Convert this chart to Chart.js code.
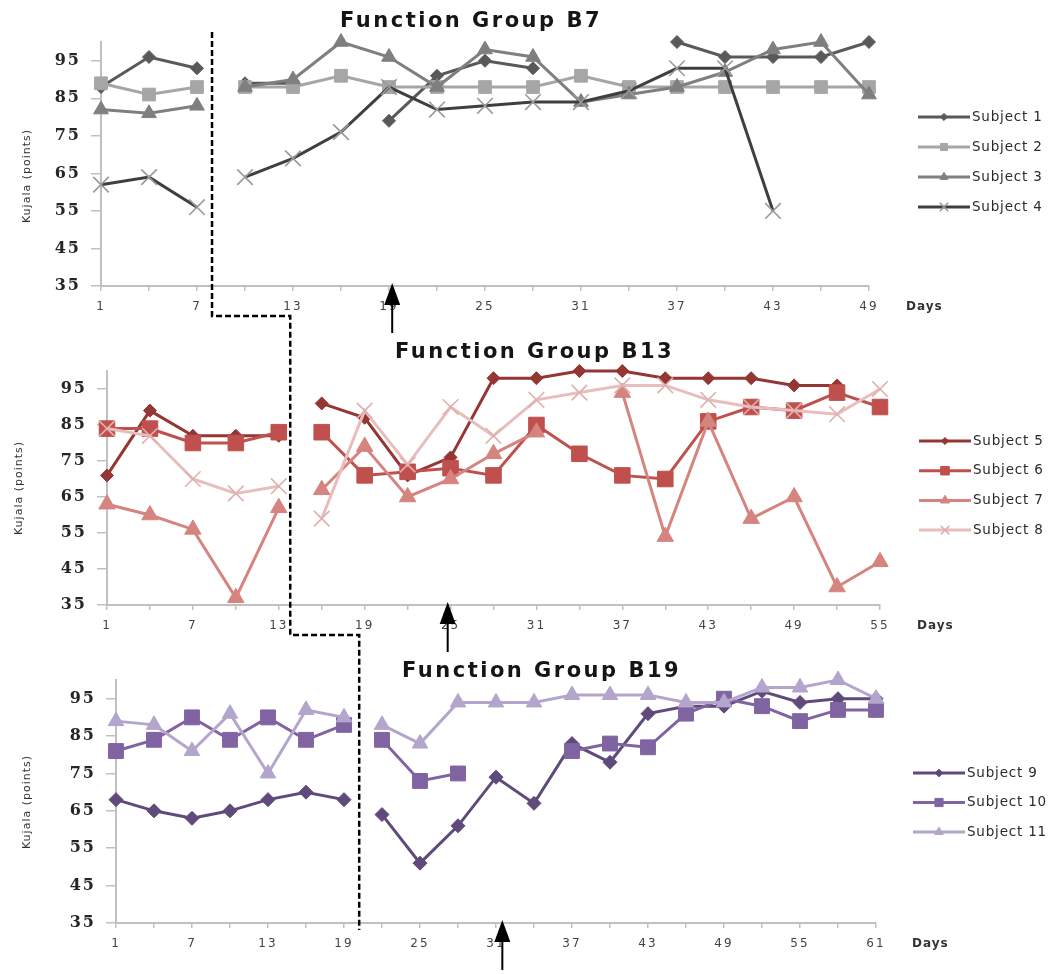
<!DOCTYPE html>
<html>
<head>
<meta charset="utf-8">
<script src="https://cdn.jsdelivr.net/npm/chart.js@4.4.1/dist/chart.umd.min.js"></script>
<style>
  body { margin: 0; background: #fff; }
  #wrap { position: relative; width: 1054px; height: 974px; }
  #wrap canvas { position: absolute; left: 0; }
</style>
</head>
<body>
<div id="wrap">
  <canvas id="b7" width="1054" height="316" style="top:0px"></canvas>
  <canvas id="b13" width="1054" height="319" style="top:316px"></canvas>
  <canvas id="b19" width="1054" height="339" style="top:635px"></canvas>
  <canvas id="overlay" width="1054" height="974" style="top:0px"></canvas>
</div>
<script>
// y axis, shared by the three groups
const yTicks = [35, 45, 55, 65, 75, 85, 95];

// Function Group B7
const b7Days = [1, 4, 7, 10, 13, 16, 19, 22, 25, 28, 31, 34, 37, 40, 43, 46, 49];
const b7Labels = [1, 7, 13, 19, 25, 31, 37, 43, 49];
const subject1 = [88, 96, 93, 89, 89, null, 79, 91, 95, 93, null, null, 100, 96, 96, 96, 100];
const subject2 = [89, 86, 88, 88, 88, 91, 88, 88, 88, 88, 91, 88, 88, 88, 88, 88, 88];
const subject3 = [82, 81, 83, 88, 90, 100, 96, 88, 98, 96, 84, 86, 88, 92, 98, 100, 86];
const subject4 = [62, 64, 56, 64, 69, 76, 88, 82, 83, 84, 84, 87, 93, 93, 55, null, null];

// Function Group B13
const b13Days = [1, 4, 7, 10, 13, 16, 19, 22, 25, 28, 31, 34, 37, 40, 43, 46, 49, 52, 55];
const b13Labels = [1, 7, 13, 19, 25, 31, 37, 43, 49, 55];
const subject5 = [71, 89, 82, 82, 82, 91, 87, 71, 76, 98, 98, 100, 100, 98, 98, 98, 96, 96, null];
const subject6 = [84, 84, 80, 80, 83, 83, 71, 72, 73, 71, 85, 77, 71, 70, 86, 90, 89, 94, 90];
const subject7 = [63, 60, 56, 37, 62, 67, 79, 65, 70, 77, 83, null, 94, 54, 86, 59, 65, 40, 47];
const subject8 = [84, 82, 70, 66, 68, 59, 89, 74, 90, 82, 92, 94, 96, 96, 92, 90, 89, 88, 95];

// Function Group B19
const b19Days = [1, 4, 7, 10, 13, 16, 19, 22, 25, 28, 31, 34, 37, 40, 43, 46, 49, 52, 55, 58, 61];
const b19Labels = [1, 7, 13, 19, 25, 31, 37, 43, 49, 55, 61];
const subject9 = [68, 65, 63, 65, 68, 70, 68, 64, 51, 61, 74, 67, 83, 78, 91, 93, 93, 97, 94, 95, 95];
const subject10 = [81, 84, 90, 84, 90, 84, 88, 84, 73, 75, null, null, 81, 83, 82, 91, 95, 93, 89, 92, 92];
const subject11 = [89, 88, 81, 91, 75, 92, 90, 88, 83, 94, 94, 94, 96, 96, 96, 94, 94, 98, 98, 100, 95];

// where the dashed step line crosses each axis, and where the arrows sit (in days)
const cutDays = [7.94, 13.8, 20.2];
const arrowDays = [19.2, 24.8, 31.5];

function series(label, days, vals, color, style, radius, markColor) {
  return {
    label,
    data: days.map((d, i) => ({ x: d, y: vals[i] })),
    borderColor: color,
    backgroundColor: markColor || color,
    pointBackgroundColor: markColor || color,
    pointBorderColor: markColor || color,
    pointBorderWidth: style === 'crossRot' ? 1.6 : 1,
    pointStyle: style,
    pointRadius: radius,
    borderWidth: 3,
    tension: 0,
    clip: false
  };
}

// titles, legend and axis captions drawn next to the plot
const deco = {
  id: 'deco',
  beforeDraw(chart) { chart.ctx.letterSpacing = '2px'; },
  beforeDatasetsDraw(chart) { chart.ctx.letterSpacing = '0px'; },
  afterDraw(chart, args, o) {
    const ctx = chart.ctx, a = chart.chartArea;
    ctx.save();
    ctx.textBaseline = 'middle';
    ctx.textAlign = 'left';

    ctx.letterSpacing = '2.5px';
    ctx.fillStyle = '#151515';
    ctx.font = 'bold 21px "DejaVu Sans"';
    ctx.fillText(o.title, o.titleX, o.titleY);

    ctx.letterSpacing = '1px';
    ctx.fillStyle = '#333';
    ctx.font = 'bold 12px "DejaVu Sans"';
    ctx.fillText('Days', o.daysX, a.bottom + 21);

    ctx.save();
    ctx.translate(o.yTitleX, o.yTitleY);
    ctx.rotate(-Math.PI / 2);
    ctx.textAlign = 'center';
    ctx.font = '11px "DejaVu Sans"';
    ctx.fillStyle = '#333';
    ctx.fillText('Kujala (points)', 0, 0);
    ctx.restore();

    chart.data.datasets.forEach((ds, i) => {
      const y = o.legendY + i * o.legendStep;
      ctx.setLineDash([]);
      ctx.strokeStyle = ds.borderColor;
      ctx.lineWidth = 3;
      ctx.beginPath();
      ctx.moveTo(o.legendX, y);
      ctx.lineTo(o.legendX + 52, y);
      ctx.stroke();
      ctx.fillStyle = ds.pointBackgroundColor;
      ctx.strokeStyle = ds.pointBorderColor;
      ctx.lineWidth = ds.pointBorderWidth;
      Chart.helpers.drawPoint(ctx, {
        pointStyle: ds.pointStyle, rotation: 0,
        radius: ds.pointRadius * 0.55, borderWidth: ds.pointBorderWidth
      }, o.legendX + 26, y);
      ctx.fillStyle = '#2a2a2a';
      ctx.font = '13.5px "DejaVu Sans"';
      ctx.letterSpacing = '0.8px';
      ctx.fillText(ds.label, o.legendX + 54, y);
    });
    ctx.restore();
  }
};

function makeChart(id, p, days, labels, datasets, cut) {
  const n = datasets.length;
  datasets.forEach((ds, i) => {
    ds.order = n - i;  // later subjects on top, like the original
    ds.segment = {
      borderColor: c => (c.p0.parsed.x < cut && c.p1.parsed.x > cut) ? 'rgba(0,0,0,0)' : undefined
    };
  });
  return new Chart(document.getElementById(id), {
    type: 'line',
    data: { datasets },
    options: {
      responsive: false,
      animation: false,
      devicePixelRatio: 1,
      layout: { padding: { left: 0, top: p.area.top, right: 1054 - p.area.right, bottom: 0 } },
      scales: {
        x: {
          type: 'linear',
          min: days[0],
          max: days[days.length - 1],
          afterBuildTicks: s => { s.ticks = days.map(v => ({ value: v })); },
          afterFit: s => { s.height = p.height - p.area.bottom; },
          ticks: {
            autoSkip: false, maxRotation: 0, padding: 9, color: '#444',
            font: { family: 'DejaVu Sans', size: 12 },
            callback: v => labels.includes(v) ? String(v) : ''
          },
          grid: { drawOnChartArea: false, tickLength: 5, color: '#c0c0c0', lineWidth: 1.5 },
          border: { color: '#c0c0c0', width: 2 }
        },
        y: {
          min: 35,
          max: 100,
          afterBuildTicks: s => { s.ticks = yTicks.map(v => ({ value: v })); },
          afterFit: s => { s.width = p.area.left; },
          ticks: { padding: 10, color: '#262626', font: { family: 'DejaVu Serif', size: 16, weight: 'bold' } },
          grid: { drawOnChartArea: false, tickLength: 10, color: '#c0c0c0', lineWidth: 1.5 },
          border: { color: '#c0c0c0', width: 2 }
        }
      },
      plugins: {
        legend: { display: false },
        tooltip: { enabled: false },
        deco: p.deco
      }
    },
    plugins: [deco]
  });
}

const panels = [
  { top: 0, height: 316, area: { left: 101, right: 869, top: 42, bottom: 286 },
    deco: { title: 'Function Group B7', titleX: 340, titleY: 22, daysX: 906,
            legendX: 918, legendY: 117, legendStep: 30, yTitleX: 27, yTitleY: 176 } },
  { top: 316, height: 319, area: { left: 107, right: 880, top: 55, bottom: 289 },
    deco: { title: 'Function Group B13', titleX: 395, titleY: 37, daysX: 917,
            legendX: 919, legendY: 125, legendStep: 29.7, yTitleX: 19, yTitleY: 172 } },
  { top: 635, height: 339, area: { left: 116, right: 876, top: 45, bottom: 288 },
    deco: { title: 'Function Group B19', titleX: 402, titleY: 37, daysX: 912,
            legendX: 913, legendY: 138, legendStep: 29.5, yTitleX: 27, yTitleY: 167 } }
];

const charts = [
  makeChart('b7', panels[0], b7Days, b7Labels, [
    series('Subject 1', b7Days, subject1, '#595959', 'rectRot', 6.5),
    series('Subject 2', b7Days, subject2, '#a6a6a6', 'rect', 9),
    series('Subject 3', b7Days, subject3, '#7f7f7f', 'triangle', 8.5),
    series('Subject 4', b7Days, subject4, '#3f3f3f', 'crossRot', 11, '#9a9a9a')
  ], cutDays[0]),
  makeChart('b13', panels[1], b13Days, b13Labels, [
    series('Subject 5', b13Days, subject5, '#943634', 'rectRot', 6.5),
    series('Subject 6', b13Days, subject6, '#c0504d', 'rect', 11),
    series('Subject 7', b13Days, subject7, '#d5847f', 'triangle', 9.5),
    series('Subject 8', b13Days, subject8, '#e8bebd', 'crossRot', 11, '#e0b0af')
  ], cutDays[1]),
  makeChart('b19', panels[2], b19Days, b19Labels, [
    series('Subject 9', b19Days, subject9, '#5f4a7b', 'rectRot', 7),
    series('Subject 10', b19Days, subject10, '#8064a2', 'rect', 10.5),
    series('Subject 11', b19Days, subject11, '#b3a5cc', 'triangle', 9)
  ], cutDays[2])
];

// dashed step line through the three groups and the arrows under each x axis
function drawOverlay() {
  const ctx = document.getElementById('overlay').getContext('2d');
  const xs = charts.map((c, i) => c.scales.x.getPixelForValue(cutDays[i]));
  ctx.strokeStyle = '#000';
  ctx.lineWidth = 2.5;
  ctx.setLineDash([6, 3]);
  ctx.beginPath();
  ctx.moveTo(xs[0], panels[0].top + charts[0].chartArea.top - 10);
  ctx.lineTo(xs[0], panels[1].top);
  ctx.lineTo(xs[1], panels[1].top);
  ctx.lineTo(xs[1], panels[2].top);
  ctx.lineTo(xs[2], panels[2].top);
  ctx.lineTo(xs[2], panels[2].top + charts[2].chartArea.bottom + 7);
  ctx.stroke();

  ctx.setLineDash([]);
  ctx.fillStyle = '#000';
  charts.forEach((c, i) => {
    const x = c.scales.x.getPixelForValue(arrowDays[i]);
    const tip = panels[i].top + c.chartArea.bottom - 3;
    ctx.lineWidth = 2;
    ctx.beginPath();
    ctx.moveTo(x, tip + 15);
    ctx.lineTo(x, tip + 50);
    ctx.stroke();
    ctx.beginPath();
    ctx.moveTo(x, tip);
    ctx.lineTo(x - 8, tip + 22);
    ctx.lineTo(x + 8, tip + 22);
    ctx.closePath();
    ctx.fill();
  });
}
drawOverlay();
</script>
</body>
</html>
